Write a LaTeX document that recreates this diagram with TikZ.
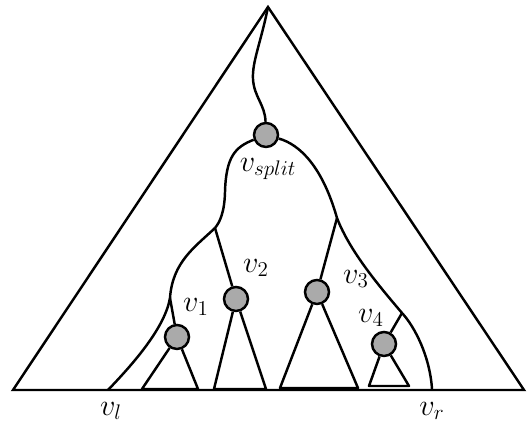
\documentclass[tikz,border=0pt]{standalone}
\usepackage{tikz}
\usetikzlibrary{positioning}
\definecolor{nodegray}{RGB}{170,170,170}

\begin{document}
\begin{tikzpicture}[
  line width=1.4pt,
  vnode/.style={circle, draw=black, fill=nodegray, minimum size=0.48cm, inner sep=0pt},
  lbl/.style={font=\LARGE, inner sep=0pt},
  subtree/.style={line join=round}
]
\useasboundingbox (0,0) rectangle (10.56,8.44);

\coordinate (top) at (5.36,8.30);
\coordinate (bl) at (0.26,0.64);
\coordinate (br) at (10.48,0.64);
\coordinate (lend) at (2.16,0.64);
\coordinate (rend) at (8.64,0.66);
\coordinate (ja) at (4.30,3.88);
\coordinate (jb) at (3.40,2.48);
\coordinate (jc) at (6.74,4.08);
\coordinate (jd) at (8.04,2.18);

\node[vnode] (split) at (5.32,5.74) {};
\node[vnode] (v1) at (3.54,1.70) {};
\node[vnode] (v2) at (4.72,2.46) {};
\node[vnode] (v3) at (6.34,2.60) {};
\node[vnode] (v4) at (7.68,1.56) {};

\coordinate (t1l) at (2.84,0.66);
\coordinate (t1r) at (3.96,0.66);
\coordinate (t2l) at (4.28,0.66);
\coordinate (t2r) at (5.32,0.66);
\coordinate (t3l) at (5.60,0.68);
\coordinate (t3r) at (7.16,0.68);
\coordinate (t4l) at (7.38,0.72);
\coordinate (t4r) at (8.18,0.72);

\node[lbl] (lsplit) at (5.36,5.06) {$v_{split}$};
\node[lbl] (l1) at (3.92,2.30) {$v_1$};
\node[lbl] (l2) at (5.12,3.08) {$v_2$};
\node[lbl] (l3) at (7.12,2.86) {$v_3$};
\node[lbl] (l4) at (7.42,2.08) {$v_4$};
\node[lbl] (ll) at (2.22,0.22) {$v_l$};
\node[lbl] (lr) at (8.64,0.22) {$v_r$};

\draw (bl) -- (top) -- (br) -- cycle;

\draw (top) .. controls (5.22,7.6) and (5.04,7.2) .. (5.06,6.86)
  .. controls (5.08,6.5) and (5.30,6.35) .. (split);
\draw (split) .. controls (4.7,5.5) and (4.52,5.3) .. (4.50,4.6)
  .. controls (4.49,4.2) and (4.4,4.0) .. (ja);
\draw (ja) .. controls (3.9,3.5) and (3.45,3.2) .. (jb);
\draw (jb) .. controls (3.3,1.9) and (2.7,1.2) .. (lend);
\draw (jb) -- (v1);
\draw (ja) -- (v2);
\draw (split) .. controls (6.0,5.55) and (6.45,5.1) .. (jc)
  .. controls (7.0,3.4) and (7.6,2.7) .. (jd)
  .. controls (8.3,1.9) and (8.6,1.3) .. (rend);
\draw (jc) -- (v3);
\draw (jd) -- (v4);

\draw[subtree] (v1) -- (t1l) -- (t1r) -- (v1);
\draw[subtree] (v2) -- (t2l) -- (t2r) -- (v2);
\draw[subtree] (v3) -- (t3l) -- (t3r) -- (v3);
\draw[subtree] (v4) -- (t4l) -- (t4r) -- (v4);
\end{tikzpicture}
\end{document}
